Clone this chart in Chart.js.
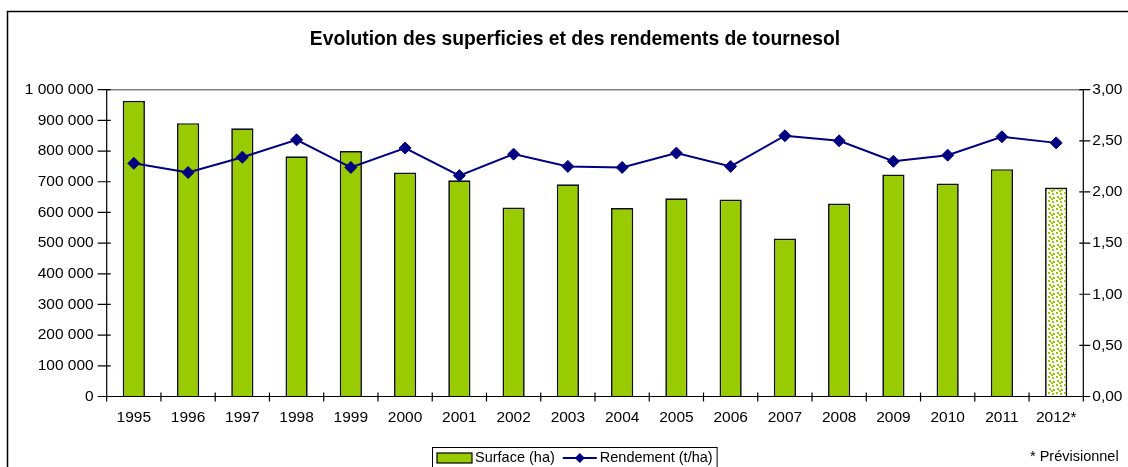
<!DOCTYPE html>
<html><head><meta charset="utf-8">
<script src="https://cdn.jsdelivr.net/npm/chart.js@4.4.0/dist/chart.umd.min.js"></script>
<style>html,body{margin:0;padding:0;background:#fff;overflow:hidden}#wrap{position:relative;width:1128px;height:467px}</style>
</head><body><div id="wrap"><canvas id="c" width="1128" height="467"></canvas></div>
<script>
const categories = ['1995','1996','1997','1998','1999','2000','2001','2002','2003','2004','2005','2006','2007','2008','2009','2010','2011','2012*'];
const surfaceHa = [964000, 891000, 874000, 783000, 800000, 730000, 705000, 616000, 692000, 614000, 646000, 642000, 515000, 629000, 724000, 694000, 741000, 681000];
const rendement = [2.28, 2.19, 2.34, 2.51, 2.24, 2.43, 2.16, 2.37, 2.25, 2.24, 2.38, 2.25, 2.55, 2.50, 2.30, 2.36, 2.54, 2.48];
const leftTicks = [0, 100000, 200000, 300000, 400000, 500000, 600000, 700000, 800000, 900000, 1000000];
const rightTicks = [0, 0.5, 1, 1.5, 2, 2.5, 3];
const titleText = 'Evolution des superficies et des rendements de tournesol';
const seriesNames = ['Surface (ha)', 'Rendement (t/ha)'];
const noteText = '* Prévisionnel';

const GREEN = '#99CC00';
const NAVY = '#000080';
const FONT = "'Liberation Sans', Arial, sans-serif";

function makePattern() {
  const p = document.createElement('canvas');
  p.width = 8; p.height = 8;
  const g = p.getContext('2d');
  g.fillStyle = '#fff'; g.fillRect(0, 0, 8, 8);
  g.fillStyle = GREEN;
  [[0,0],[4,1],[1,4],[5,5],[3,6]].forEach(([a,b]) => g.fillRect(a, b, 2, 2));
  return g.createPattern(p, 'repeat');
}
const pattern = makePattern();
const barColors = categories.map(c => c.endsWith('*') ? pattern : GREEN);

function fmtThousands(v) {
  return String(Math.round(v)).replace(/\B(?=(\d{3})+(?!\d))/g, ' ');
}

const decor = {
  id: 'decor',
  beforeDraw(chart) {
    const c = chart.ctx, a = chart.chartArea;
    c.save();
    c.fillStyle = '#fff'; c.fillRect(0, 0, chart.width, chart.height);
    c.strokeStyle = '#000'; c.lineWidth = 1.5;
    c.strokeRect(7.5, 11.5, 1200, 600);
    c.strokeStyle = '#808080'; c.lineWidth = 1.5;
    c.beginPath(); c.moveTo(a.left, a.top); c.lineTo(a.right, a.top); c.stroke();
    c.restore();
  },
  afterDraw(chart) {
    const c = chart.ctx, a = chart.chartArea;
    const xs = chart.scales.x, yl = chart.scales.y, yr = chart.scales.y1;
    c.save();
    c.strokeStyle = '#000'; c.lineWidth = 1.2;
    c.beginPath();
    c.moveTo(a.left, a.top); c.lineTo(a.left, a.bottom);
    c.moveTo(a.right, a.top); c.lineTo(a.right, a.bottom);
    c.moveTo(a.left, a.bottom); c.lineTo(a.right, a.bottom);
    leftTicks.forEach(v => { const y = yl.getPixelForValue(v); c.moveTo(a.left - 9, y); c.lineTo(a.left + 4, y); });
    rightTicks.forEach(v => { const y = yr.getPixelForValue(v); c.moveTo(a.right - 4, y); c.lineTo(a.right + 7, y); });
    for (let i = 0; i <= categories.length; i++) {
      let x;
      if (i === 0) x = a.left; else if (i === categories.length) x = a.right;
      else x = (xs.getPixelForValue(i - 1) + xs.getPixelForValue(i)) / 2;
      c.moveTo(x, a.bottom - 4); c.lineTo(x, a.bottom + 5);
    }
    c.stroke();

    // title
    c.fillStyle = '#000';
    c.font = 'bold 19.3px ' + FONT;
    c.textAlign = 'center'; c.textBaseline = 'middle';
    c.fillText(titleText, 575, 40);

    // legend
    c.font = '14.5px ' + FONT;
    c.textAlign = 'left';
    const ly = 458;
    let x = 437;
    const w1 = c.measureText(seriesNames[0]).width;
    const w2 = c.measureText(seriesNames[1]).width;
    const boxL = 432.5;
    const totalW = 5 + 35 + 3 + w1 + 8 + 34 + 3 + w2 + 4;
    c.strokeStyle = '#000'; c.lineWidth = 1;
    c.strokeRect(boxL, 447.5, totalW, 40);
    c.fillStyle = GREEN; c.fillRect(x, ly - 5, 35, 10);
    c.strokeStyle = '#000'; c.lineWidth = 1.2; c.strokeRect(x, ly - 5, 35, 10);
    x += 35 + 3;
    c.fillStyle = '#000'; c.fillText(seriesNames[0], x, ly);
    x += w1 + 8;
    c.strokeStyle = NAVY; c.lineWidth = 2;
    c.beginPath(); c.moveTo(x, ly); c.lineTo(x + 34, ly); c.stroke();
    c.fillStyle = NAVY;
    c.beginPath(); const cx = x + 17;
    c.moveTo(cx, ly - 5); c.lineTo(cx + 5, ly); c.lineTo(cx, ly + 5); c.lineTo(cx - 5, ly); c.closePath(); c.fill();
    x += 34 + 3;
    c.fillStyle = '#000'; c.fillText(seriesNames[1], x, ly);

    c.fillText(noteText, 1030, 457);
    c.restore();
  }
};

new Chart(document.getElementById('c'), {
  data: {
    labels: categories,
    datasets: [
      { type: 'line', label: seriesNames[1], data: rendement, yAxisID: 'y1', order: 0,
        borderColor: NAVY, borderWidth: 2, backgroundColor: NAVY,
        pointStyle: 'rectRot', pointRadius: 6, pointHoverRadius: 6,
        pointBackgroundColor: NAVY, pointBorderColor: NAVY, pointBorderWidth: 1, tension: 0, fill: false },
      { type: 'bar', label: seriesNames[0], data: surfaceHa, yAxisID: 'y', order: 1,
        backgroundColor: barColors, borderColor: '#111', borderWidth: 1.7,
        barPercentage: 0.41, categoryPercentage: 1 }
    ]
  },
  options: {
    responsive: false, animation: false, devicePixelRatio: 1,
    layout: { padding: { top: 89.7, left: 0, right: 0, bottom: 0 } },
    plugins: { legend: { display: false }, title: { display: false }, tooltip: { enabled: false } },
    scales: {
      x: {
        type: 'category', offset: true,
        grid: { display: false, drawTicks: false }, border: { display: false },
        ticks: { color: '#000', font: { family: FONT, size: 15.5 }, padding: 12, maxRotation: 0, autoSkip: false },
        afterFit: s => { s.height = 70.5; }
      },
      y: {
        position: 'left', min: 0, max: 1000000,
        grid: { display: false, drawTicks: false }, border: { display: false },
        afterBuildTicks: s => { s.ticks = leftTicks.map(v => ({ value: v })); },
        ticks: { color: '#000', font: { family: FONT, size: 15.5 }, padding: 13, callback: v => fmtThousands(v) },
        afterFit: s => { s.width = 106.7; }
      },
      y1: {
        position: 'right', min: 0, max: 3,
        grid: { display: false, drawTicks: false }, border: { display: false },
        afterBuildTicks: s => { s.ticks = rightTicks.map(v => ({ value: v })); },
        ticks: { color: '#000', font: { family: FONT, size: 15.5 }, padding: 9, callback: v => v.toFixed(2).replace('.', ',') },
        afterFit: s => { s.width = 44.7; }
      }
    }
  },
  plugins: [decor]
});
</script>
</body></html>
